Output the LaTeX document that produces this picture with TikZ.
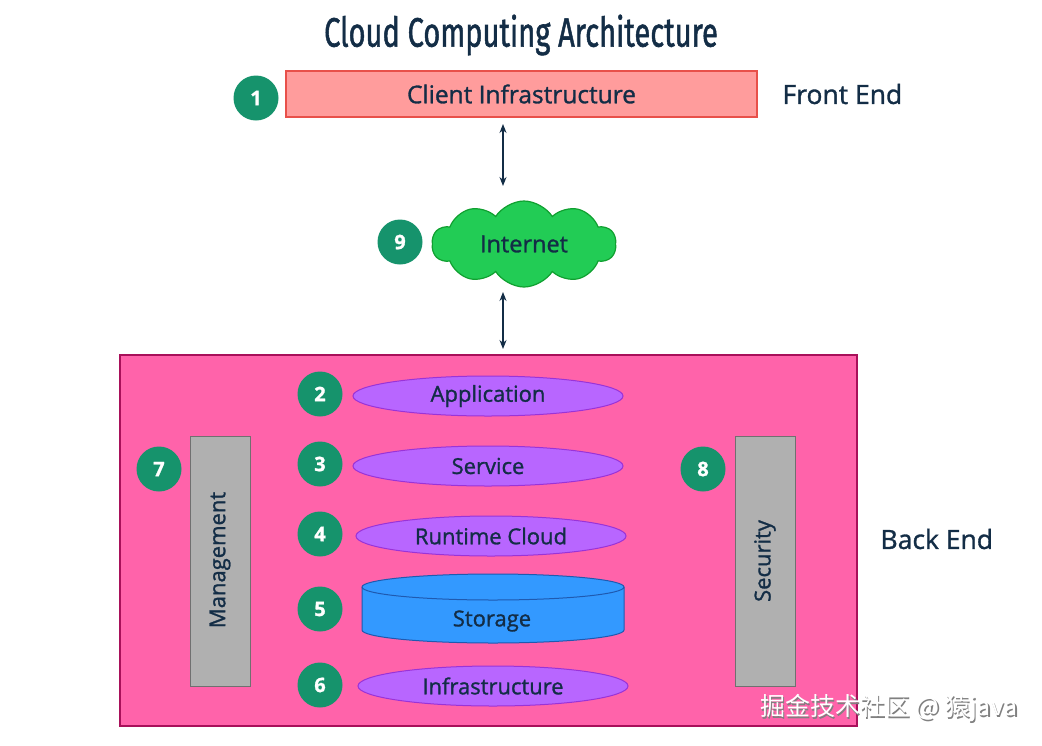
\documentclass[tikz,border=0pt]{standalone}
\usepackage{fontspec}
\setmainfont{Open Sans}[FakeBold=1.2]
\newfontfamily\medfont{Open Sans}[FakeBold=1.2]
\newfontfamily\titlefont{Fira Sans}[FakeBold=1.5]
\newfontfamily\cjkfont{Noto Sans CJK SC}
\usetikzlibrary{shapes.geometric,shapes.symbols,arrows.meta}
\definecolor{navy}{HTML}{132D46}
\definecolor{badge}{HTML}{16936C}
\definecolor{clientfill}{HTML}{FF9C9C}
\definecolor{clientdraw}{HTML}{E8504A}
\definecolor{cloudfill}{HTML}{22CC55}
\definecolor{clouddraw}{HTML}{10A030}
\definecolor{backfill}{HTML}{FF63AA}
\definecolor{backdraw}{HTML}{A8105A}
\definecolor{ellfill}{HTML}{B866FF}
\definecolor{elldraw}{HTML}{9A33D8}
\definecolor{cylfill}{HTML}{3399FF}
\definecolor{cyldraw}{HTML}{1F5AB0}
\definecolor{grayfill}{HTML}{B0B0B0}
\definecolor{graydraw}{HTML}{707070}
\tikzset{
  num/.style={circle,fill=badge,text=white,minimum size=45pt,inner sep=0pt,font=\fontsize{20}{20}\selectfont\bfseries},
  lbl/.style={text=navy,font=\medfont\fontsize{25}{25}\selectfont},
  layer/.style={ellipse,fill=ellfill,draw=elldraw,line width=1pt,minimum height=40pt,inner sep=0pt,text=navy,font=\medfont\fontsize{22}{22}\selectfont},
  bar/.style={rectangle,fill=grayfill,draw=graydraw,line width=1pt,minimum width=60pt,minimum height=250pt,inner sep=0pt},
  link/.style={{Stealth[length=9pt,width=7pt]}-{Stealth[length=9pt,width=7pt]},navy,line width=1.2pt}
}
\begin{document}
\begin{tikzpicture}[x=1pt,y=-1pt]
\useasboundingbox (0,0) rectangle (1042,745);
\fill[white] (0,0) rectangle (1042,745);
% title
\node[text=navy] (title) at (521,35) {\scalebox{0.71}[1]{\titlefont\fontsize{41}{41}\selectfont Cloud Computing Architecture}};
% front end
\node[rectangle,fill=clientfill,draw=clientdraw,line width=1.2pt,minimum width=471pt,minimum height=46pt,inner sep=0pt,lbl,font=\medfont\fontsize{24.5}{24.5}\selectfont] (client) at (521.5,94) {Client Infrastructure};
\node[num] (n1) at (256,98) {1};
\node[lbl,anchor=west,font=\medfont\fontsize{26.5}{26.5}\selectfont] (front) at (779,94) {Front End};
% internet
\node[cloud,cloud puffs=10,cloud puff arc=115,aspect=2.1,fill=cloudfill,draw=clouddraw,line width=1.2pt,minimum width=184pt,minimum height=86pt,inner sep=0pt,lbl,font=\medfont\fontsize{23.5}{23.5}\selectfont] (inet) at (524,244) {Internet};
\node[num] (n9) at (400,242) {9};
\coordinate (a1) at (503,124);
\coordinate (a2) at (503,186);
\coordinate (a3) at (503,292);
\coordinate (a4) at (503,349);
\draw[link] (a1) -- (a2);
\draw[link] (a3) -- (a4);
% back end
\node[rectangle,fill=backfill,draw=backdraw,line width=1.2pt,minimum width=737pt,minimum height=371pt,inner sep=0pt] (back) at (488.5,540.5) {};
\node[lbl,anchor=west,font=\medfont\fontsize{26.5}{26.5}\selectfont] (backlbl) at (877,539) {Back End};
\node[layer,minimum width=270pt] (app) at (488,396) {Application};
\node[layer,minimum width=270pt] (serv) at (488,466) {Service};
\node[layer,minimum width=270pt] (run) at (491,536) {Runtime Cloud};
\node[layer,minimum width=270pt] (infra) at (493,686) {Infrastructure};
% storage cylinder
\coordinate (cyl) at (493,587);
\filldraw[fill=cylfill,draw=cyldraw,line width=1pt] (362,587) -- (362,630) arc[start angle=180,end angle=0,x radius=131,y radius=13] -- (624,587) arc[start angle=0,end angle=-180,x radius=131,y radius=13] -- cycle;
\draw[cyldraw,line width=1pt] (362,587) arc[start angle=180,end angle=0,x radius=131,y radius=13];
\node[lbl,font=\medfont\fontsize{22}{22}\selectfont] (stor) at (492,621) {Storage};
% bars
\node[bar] (mgmt) at (220,561) {};
\node[lbl,rotate=90,font=\medfont\fontsize{22}{22}\selectfont] (mgmtl) at (220,560) {Management};
\node[bar] (sec) at (765,561) {};
\node[lbl,rotate=90,font=\medfont\fontsize{22}{22}\selectfont] (secl) at (765,561) {Security};
% badges
\node[num] (n2) at (320,394) {2};
\node[num] (n3) at (320,464) {3};
\node[num] (n4) at (320,534) {4};
\node[num] (n5) at (320,609) {5};
\node[num] (n6) at (320,685) {6};
\node[num] (n7) at (159,469) {7};
\node[num] (n8) at (703,469) {8};
% watermark
\node[text=gray,font=\cjkfont\fontsize{25}{25}\selectfont,anchor=west,inner sep=0pt] (wm0) at (761.5,709.5) {掘金技术社区 @ 猿java};
\node[text=white,font=\cjkfont\fontsize{25}{25}\selectfont,anchor=west,inner sep=0pt] (wm) at (760,708) {掘金技术社区 @ 猿java};
\end{tikzpicture}
\end{document}
